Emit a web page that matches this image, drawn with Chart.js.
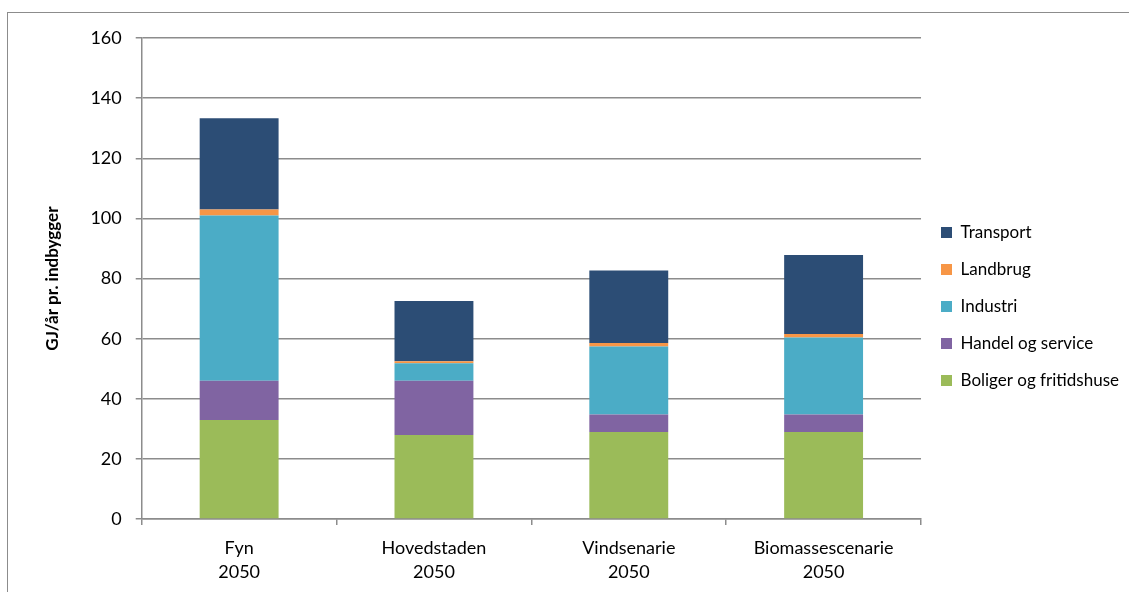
<!DOCTYPE html>
<html lang="da">
<head>
<meta charset="UTF-8">
<title>GJ pr. indbygger</title>
<script src="https://cdn.jsdelivr.net/npm/chart.js"></script>
<style>
    body { margin: 0; background: #fff; overflow: hidden; }
    .frame {
        position: absolute;
        left: 7px; top: 12px;
        width: 1300px; height: 700px;
        border: 1px solid #8c8c8c;
    }
    #wrap { position: absolute; left: 0; top: 0; width: 1129px; height: 592px; }
</style>
</head>
<body>
<div class="frame"></div>
<div id="wrap"><canvas id="chart" width="1129" height="592"></canvas></div>
<script>
    // kategorier og værdier (GJ/år pr. indbygger)
    const categories = [['Fyn', '2050'], ['Hovedstaden', '2050'], ['Vindsenarie', '2050'], ['Biomassescenarie', '2050']];
    const boliger   = [33, 28, 29, 29];
    const handel    = [13, 18, 5.8, 5.8];
    const industri  = [55, 5.8, 22.6, 25.6];
    const landbrug  = [2, 0.7, 1.2, 1.2];
    const transport = [30.3, 20, 24.1, 26.2];
    const yTicks = [0, 20, 40, 60, 80, 100, 120, 140, 160];

    const font = "Lato, 'Liberation Sans', sans-serif";
    const gridColor = '#8c8c8c';

    function ds(label, data, color) {
        return {
            label: label,
            data: data,
            backgroundColor: color,
            borderWidth: 0,
            barPercentage: 0.405,
            categoryPercentage: 1.0,
        };
    }

    // flyt legenden lidt op, som i Excel-udgaven
    const legendShift = {
        id: 'legendShift',
        afterLayout(chart) {
            chart.legend.top -= 10;
            chart.legend.bottom -= 10;
        }
    };

    new Chart(document.getElementById('chart').getContext('2d'), {
        type: 'bar',
        data: {
            labels: categories,
            datasets: [
                ds('Boliger og fritidshuse', boliger, '#9BBB59'),
                ds('Handel og service', handel, '#8064A2'),
                ds('Industri', industri, '#4BACC6'),
                ds('Landbrug', landbrug, '#F79646'),
                ds('Transport', transport, '#2C4D75'),
            ],
        },
        plugins: [legendShift],
        options: {
            responsive: false,
            animation: false,
            layout: { padding: { left: 38, right: 0, top: 38, bottom: -3 } },
            plugins: {
                tooltip: { enabled: false },
                legend: {
                    position: 'right',
                    reverse: true,
                    labels: {
                        boxWidth: 11,
                        boxHeight: 11,
                        padding: 20,
                        color: '#000',
                        font: { family: font, size: 17 },
                    },
                },
            },
            scales: {
                x: {
                    stacked: true,
                    grid: {
                        offset: true,
                        drawOnChartArea: false,
                        color: gridColor,
                        lineWidth: 1.5,
                        tickLength: 6,
                    },
                    border: { color: gridColor, width: 1.5 },
                    ticks: { color: '#000', font: { family: font, size: 18, lineHeight: 1.33 }, padding: 11 },
                },
                y: {
                    stacked: true,
                    min: 0,
                    max: 160,
                    afterBuildTicks: axis => { axis.ticks = yTicks.map(v => ({ value: v })); },
                    grid: { color: gridColor, tickLength: 6, lineWidth: 1.5 },
                    border: { color: gridColor, width: 1.5 },
                    ticks: { color: '#000', font: { family: font, size: 18 }, padding: 14 },
                    title: {
                        display: true,
                        text: 'GJ/år pr. indbygger',
                        color: '#000',
                        font: { family: font, size: 17, weight: 'bold' },
                        padding: { bottom: 14 },
                    },
                },
            },
        },
    });
</script>
</body>
</html>
